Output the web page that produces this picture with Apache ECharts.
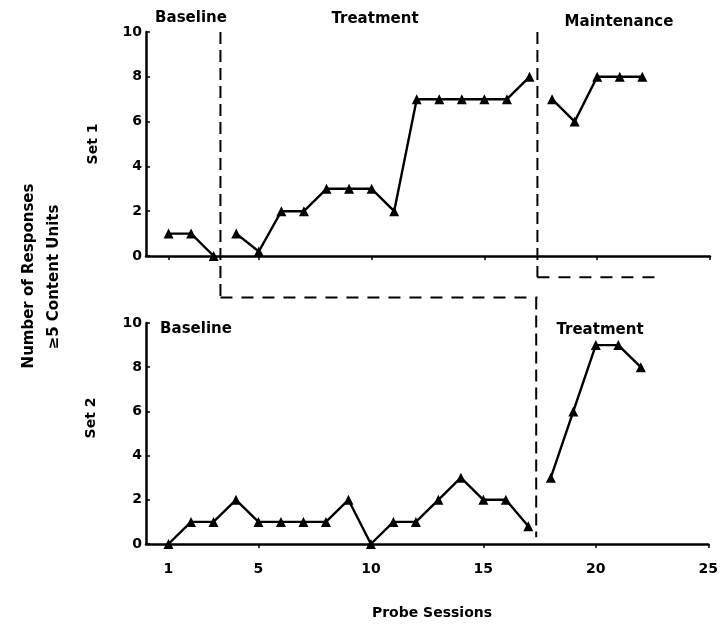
<!DOCTYPE html>
<html><head><meta charset="utf-8">
<script src="https://cdn.jsdelivr.net/npm/echarts@6/dist/echarts.min.js"></script>
<style>html,body{margin:0;padding:0;background:#fff}#c{width:721px;height:624px}</style>
</head><body><div id="c"></div>
<script>
// ---- data ----
const set1BaselineSessions = [1, 2, 3];
const set1BaselineValues = [1, 1, 0];
const set1TreatmentSessions = [4, 5, 6, 7, 8, 9, 10, 11, 12, 13, 14, 15, 16, 17];
const set1TreatmentValues = [1, 0.2, 2, 2, 3, 3, 3, 2, 7, 7, 7, 7, 7, 8];
const set1MaintenanceSessions = [18, 19, 20, 21, 22];
const set1MaintenanceValues = [7, 6, 8, 8, 8];
const set2BaselineSessions = [1, 2, 3, 4, 5, 6, 7, 8, 9, 10, 11, 12, 13, 14, 15, 16, 17];
const set2BaselineValues = [0, 1, 1, 2, 1, 1, 1, 1, 2, 0, 1, 1, 2, 3, 2, 2, 0.8];
const set2TreatmentSessions = [18, 19, 20, 21, 22];
const set2TreatmentValues = [3, 6, 9, 9, 8];
const xTickValues = [1, 5, 10, 15, 20, 25];
const phaseChange1 = 3.3;    // Set 1 baseline -> treatment
const phaseChange2 = 17.35;  // Set 1 treatment -> maintenance, Set 2 baseline -> treatment
const stepLevelSet1 = -1.85; // connector between panels (Set 1 y units)
const maintStubLevel = -0.95;
const maintStubEnd = 22.9;

const FONT = 'DejaVu Sans';
const pairs = (xs, ys) => xs.map((x, i) => [x, ys[i]]);

const chart = echarts.init(document.getElementById('c'), null, {renderer: 'canvas'});

function xAxisCfg(gridIndex, showLabels) {
  return {
    type: 'value', gridIndex, min: 0, max: 25,
    axisLine: {show: true, onZero: false, lineStyle: {color: '#000', width: 2.5}},
    axisTick: {show: true, customValues: xTickValues, length: 4, lineStyle: {color: '#000', width: 1.5}},
    axisLabel: {show: showLabels, customValues: xTickValues, color: '#000', fontFamily: FONT, fontWeight: 'bold', fontSize: 14, margin: 18},
    splitLine: {show: false}
  };
}
function yAxisCfg(gridIndex) {
  return {
    type: 'value', gridIndex, min: 0, max: 10, interval: 2,
    axisLine: {show: true, lineStyle: {color: '#000', width: 2.5}},
    axisTick: {show: true, inside: true, length: 4, lineStyle: {color: '#000', width: 1.5}},
    axisLabel: {color: '#000', fontFamily: FONT, fontWeight: 'bold', fontSize: 14, margin: 4},
    splitLine: {show: false}
  };
}
function lineSeries(xi, yi, data) {
  return {
    type: 'line', xAxisIndex: xi, yAxisIndex: yi, data,
    symbol: 'triangle', symbolSize: 10, showSymbol: true,
    lineStyle: {color: '#000', width: 2.4},
    itemStyle: {color: '#000'},
    animation: false, silent: true
  };
}

chart.setOption({
  backgroundColor: '#fff',
  animation: false,
  grid: [
    {left: 146, top: 32, width: 564, height: 224},
    {left: 146, top: 323, width: 564, height: 221}
  ],
  xAxis: [xAxisCfg(0, false), xAxisCfg(1, true)],
  yAxis: [yAxisCfg(0), yAxisCfg(1)],
  series: [
    lineSeries(0, 0, pairs(set1BaselineSessions, set1BaselineValues)),
    lineSeries(0, 0, pairs(set1TreatmentSessions, set1TreatmentValues)),
    lineSeries(0, 0, pairs(set1MaintenanceSessions, set1MaintenanceValues)),
    lineSeries(1, 1, pairs(set2BaselineSessions, set2BaselineValues)),
    lineSeries(1, 1, pairs(set2TreatmentSessions, set2TreatmentValues))
  ]
});

const p0 = (x, y) => chart.convertToPixel({gridIndex: 0}, [x, y]);
const p1 = (x, y) => chart.convertToPixel({gridIndex: 1}, [x, y]);
const vdash = {stroke: '#000', lineWidth: 2, lineDash: [12, 6]};
const hdash = {stroke: '#000', lineWidth: 2, lineDash: [12, 9]};
function seg(a, b, st) {
  return {type: 'line', shape: {x1: a[0], y1: a[1], x2: b[0], y2: b[1]}, style: st, silent: true};
}
function txt(x, y, text, size, rot) {
  return {type: 'text', x, y, rotation: rot || 0, silent: true,
    style: {text, fill: '#000', font: 'bold ' + size + 'px "' + FONT + '"', textAlign: 'center', textVerticalAlign: 'middle'}};
}
const stepY = p0(0, stepLevelSet1)[1];
const graphics = [
  seg(p0(phaseChange1, 10), [p0(phaseChange1, 0)[0], stepY], vdash),
  seg([p0(phaseChange1, 0)[0], stepY], [p0(phaseChange2, 0)[0], stepY], hdash),
  seg([p1(phaseChange2, 0)[0], stepY], p1(phaseChange2, 0.3), vdash),
  seg(p0(phaseChange2, 10), p0(phaseChange2, maintStubLevel), vdash),
  seg(p0(phaseChange2, maintStubLevel), p0(maintStubEnd, maintStubLevel), hdash),
  txt(191, 18, 'Baseline', 15),
  txt(375, 19, 'Treatment', 15),
  txt(619, 22, 'Maintenance', 15),
  txt(196, 329, 'Baseline', 15),
  txt(600, 330, 'Treatment', 15),
  txt(93, 144, 'Set 1', 14, Math.PI / 2),
  txt(91, 418, 'Set 2', 14, Math.PI / 2),
  txt(29, 276, 'Number of Responses', 15, Math.PI / 2),
  txt(54, 277, '\u22655 Content Units', 15, Math.PI / 2),
  txt(432, 613, 'Probe Sessions', 14)
];
chart.setOption({graphic: graphics});
</script>
</body></html>
